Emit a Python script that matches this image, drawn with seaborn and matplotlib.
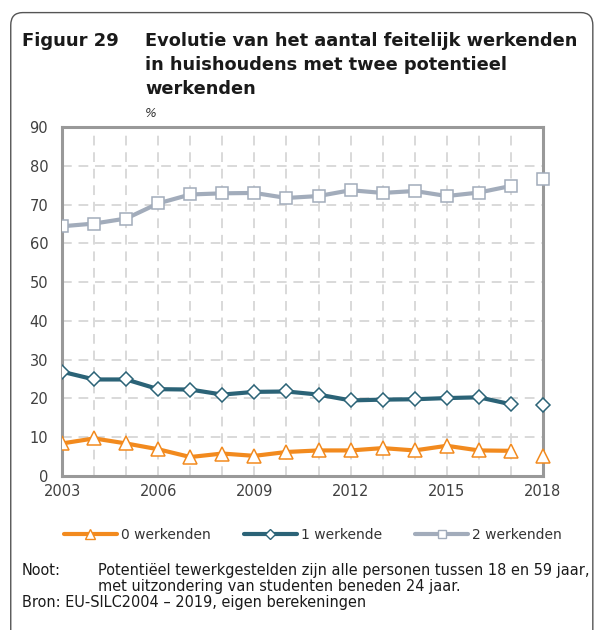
import numpy as np
import pandas as pd
import matplotlib
matplotlib.use("Agg")
import matplotlib.pyplot as plt
from matplotlib.lines import Line2D
from matplotlib.patches import FancyBboxPatch
import seaborn as sns

years = list(range(2003, 2019))
zero_werkenden = [8.4, 9.7, 8.4, 6.9, 4.9, 5.8, 5.2, 6.2, 6.6, 6.6, 7.2, 6.6, 7.8, 6.6, 6.5, 5.1]
een_werkende = [26.9, 24.9, 24.9, 22.4, 22.3, 21.0, 21.7, 21.8, 21.0, 19.5, 19.7, 19.8, 20.1, 20.3, 18.5, 18.2]
twee_werkenden = [64.4, 65.1, 66.4, 70.3, 72.6, 72.9, 73.0, 71.7, 72.2, 73.7, 73.0, 73.5, 72.2, 73.1, 74.8, 76.5]
series_names = ["0 werkenden", "1 werkende", "2 werkenden"]
x_tick_labels = ["2003", "2006", "2009", "2012", "2015", "2018"]
y_ticks = [0, 10, 20, 30, 40, 50, 60, 70, 80, 90]

colors = ["#F28A1E", "#2B6377", "#A2ACBB"]
markers = ["^", "D", "s"]
msizes = [9.5, 7, 8.5]

sns.set_style("white")
plt.rcParams['font.family'] = ['DejaVu Sans']

fig = plt.figure(figsize=(5.97, 6.30), dpi=100)
frame = FancyBboxPatch((0.018, -0.02), 0.975, 1.0, boxstyle="round,pad=0,rounding_size=0.02",
                       transform=fig.transFigure, facecolor="none", edgecolor="#555555",
                       linewidth=1.0, figure=fig)
fig.patches.append(frame)

ax = fig.add_axes([0.1039, 0.2444, 0.8056, 0.554])

df = pd.DataFrame({"jaar": years, series_names[0]: zero_werkenden,
                   series_names[1]: een_werkende, series_names[2]: twee_werkenden})

for name, c, m, ms in zip(series_names, colors, markers, msizes):
    main = df[df["jaar"] <= 2017]
    last = df[df["jaar"] == 2018]
    sns.lineplot(x=main["jaar"], y=main[name], ax=ax, color=c, linewidth=3.0,
                 marker=m, markersize=ms, markerfacecolor="white", markeredgecolor=c,
                 markeredgewidth=1.1, zorder=3)
    ax.plot(last["jaar"], last[name], linestyle="none", marker=m, markersize=ms,
            markerfacecolor="white", markeredgecolor=c, markeredgewidth=1.1, zorder=4,
            clip_on=False)

ax.set_xlim(2003, 2018)
ax.set_ylim(0, 90)
ax.set_xticks(years)
ax.set_xticklabels([str(y) if str(y) in x_tick_labels else "" for y in years])
ax.set_yticks(y_ticks)
ax.set_xlabel("")
ax.set_ylabel("")
ax.grid(True, color="#D9D9D9", linestyle=(0, (5, 3.5)), linewidth=1.4)
ax.set_axisbelow(True)
for s in ["left", "bottom", "top", "right"]:
    ax.spines[s].set_color("#999999")
    ax.spines[s].set_linewidth(2.2)
ax.tick_params(axis="both", which="both", direction="out", length=5, width=1.5,
               color="#999999", labelsize=10.5, labelcolor="#404040")
ax.tick_params(axis="y", pad=5)
ax.tick_params(axis="x", pad=1)

tc = "#1a1a1a"
fig.text(0.037, 0.927, "Figuur 29", fontsize=13, fontweight="bold", color=tc, va="baseline")
fig.text(0.243, 0.927, "Evolutie van het aantal feitelijk werkenden", fontsize=12.8,
         fontweight="bold", color=tc, va="baseline")
fig.text(0.243, 0.889, "in huishoudens met twee potentieel", fontsize=12.8,
         fontweight="bold", color=tc, va="baseline")
fig.text(0.243, 0.851, "werkenden", fontsize=12.8, fontweight="bold", color=tc, va="baseline")
fig.text(0.243, 0.814, "%", fontsize=9, style="italic", color="#333333", va="baseline")

handles = [Line2D([0], [0], color=c, linewidth=3.0, marker=m, markersize=ms * 0.75,
                  markerfacecolor="white", markeredgecolor=c, markeredgewidth=1.0)
           for c, m, ms in zip(colors, markers, msizes)]
fig.legend(handles, series_names, loc="center", bbox_to_anchor=(0.524, 0.151), ncol=3,
           frameon=False, fontsize=10, handlelength=3.8, handletextpad=0.3,
           columnspacing=2.4, labelcolor="#333333")

fs = 10.45
fig.text(0.037, 0.088, "Noot:", fontsize=fs, color=tc, va="baseline")
fig.text(0.164, 0.088, "Potentiëel tewerkgestelden zijn alle personen tussen 18 en 59 jaar,",
         fontsize=fs, color=tc, va="baseline")
fig.text(0.164, 0.0625, "met uitzondering van studenten beneden 24 jaar.", fontsize=fs,
         color=tc, va="baseline")
fig.text(0.037, 0.037, "Bron: EU-SILC2004 – 2019, eigen berekeningen", fontsize=fs,
         color=tc, va="baseline")

fig.savefig("out.png", dpi=100)
